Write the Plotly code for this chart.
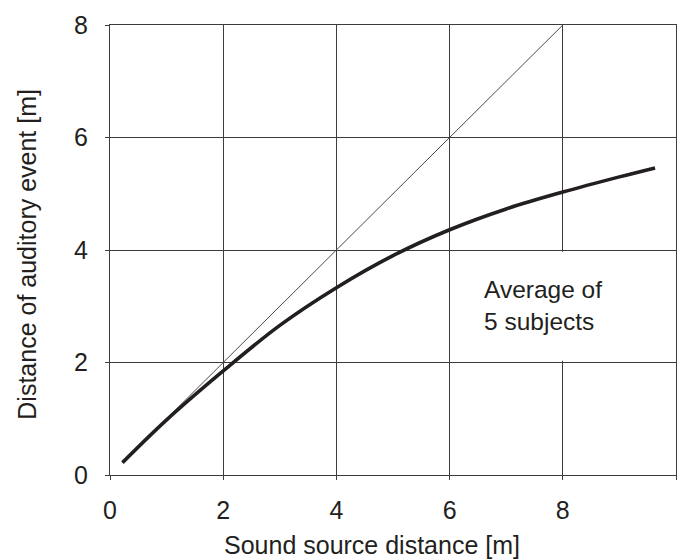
import plotly.graph_objects as go

# Perceived distance vs. physical distance of a sound source
source_dist = [0.22, 1.0, 2.0, 3.0, 4.0, 5.0, 6.0, 7.0, 8.0, 9.0, 9.63]
event_dist = [0.22, 0.98, 1.85, 2.66, 3.33, 3.90, 4.36, 4.73, 5.03, 5.30, 5.46]

# Reference line: auditory event distance equal to source distance
diag_x = [0.22, 8.0]
diag_y = [0.22, 8.0]

x_ticks = [0, 2, 4, 6, 8, 10]
y_ticks = [0, 2, 4, 6, 8]

FONT = "Liberation Sans, Arial, Helvetica, sans-serif"
INK = "#231f20"
GRID = "#3c3c3c"

fig = go.Figure()
fig.add_trace(go.Scatter(x=diag_x, y=diag_y, mode="lines",
                         line=dict(color="#4a4a4a", width=1),
                         hoverinfo="skip", showlegend=False))
fig.add_trace(go.Scatter(x=source_dist, y=event_dist, mode="lines",
                         line=dict(color=INK, width=3.6, shape="spline", smoothing=1.0),
                         showlegend=False))

axis_common = dict(
    showgrid=True, gridcolor=GRID, gridwidth=1,
    showline=True, linecolor=GRID, linewidth=1, mirror=True,
    ticks="outside", ticklen=4, tickcolor=GRID, tickwidth=1,
    zeroline=False,
    tickfont=dict(family=FONT, size=25, color=INK),
)

fig.update_xaxes(range=[0, 10], tickvals=x_ticks, ticklabelstandoff=9, **axis_common)
fig.update_yaxes(range=[0, 8], tickvals=y_ticks, ticklabelstandoff=12, **axis_common)

# White label panel hides the x=8 grid segment behind the annotation text
fig.add_shape(type="rect", xref="x", yref="y", x0=6.04, x1=9.96, y0=2.03, y1=3.97,
              fillcolor="white", line=dict(width=0), layer="above")

fig.add_annotation(x=6.58, y=3.02, xref="x", yref="y", xanchor="left", yanchor="middle",
                   text="Average of<br>5 subjects", align="left", showarrow=False,
                   font=dict(family=FONT, size=24.5, color=INK))

fig.add_annotation(x=0.463, y=-0.121, xref="paper", yref="paper",
                   xanchor="center", yanchor="top", showarrow=False,
                   text="Sound source distance [m]",
                   font=dict(family=FONT, size=25, color=INK))
fig.add_annotation(x=-0.148, y=0.49, xref="paper", yref="paper",
                   xanchor="center", yanchor="middle", textangle=-90, showarrow=False,
                   text="Distance of auditory event [m]",
                   font=dict(family=FONT, size=25, color=INK))

fig.update_layout(
    width=686, height=560,
    margin=dict(l=110, r=10, t=25, b=85),
    paper_bgcolor="white", plot_bgcolor="white",
    font=dict(family=FONT, color=INK),
)

fig.write_html("out.html")
